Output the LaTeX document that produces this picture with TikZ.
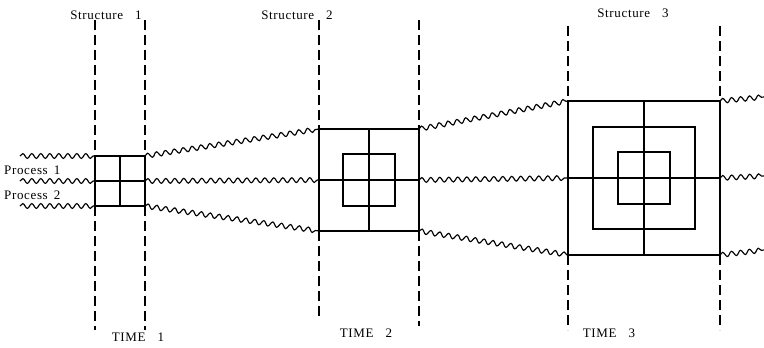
\documentclass[tikz,border=0pt]{standalone}
\usepackage{fontspec}
\setmainfont{Liberation Serif}
\usetikzlibrary{decorations.pathmorphing}
\begin{document}
\begin{tikzpicture}[x=1pt,y=-1pt,
  wave/.style={decorate,decoration={snake,segment length=9pt,amplitude=2.4pt},line width=1.15pt},
  guide/.style={dash pattern=on 10pt off 5pt, line width=1.15pt},
  frame/.style={draw, line width=1.3pt, inner sep=0pt, outer sep=0pt},
  cross/.style={line width=1.3pt},
  lbl/.style={font=\fontsize{13}{15}\selectfont\addfontfeature{LetterSpace=5}, inner sep=0pt}]
\useasboundingbox (0,0) rectangle (764,348);
% structures
\node[frame, minimum width=50pt, minimum height=50pt] (s1) at (120,181) {};
\node[frame, minimum width=100pt, minimum height=102pt] (s2) at (369,180) {};
\node[frame, minimum width=52pt, minimum height=52pt] (s2i) at (369,180) {};
\node[frame, minimum width=152pt, minimum height=154pt] (s3) at (644,178) {};
\node[frame, minimum width=102pt, minimum height=102pt] (s3m) at (644,178) {};
\node[frame, minimum width=52pt, minimum height=52pt] (s3i) at (644,178) {};
\foreach \s in {s1,s2,s3}{
  \draw[cross] (\s.west) -- (\s.east);
  \draw[cross] (\s.north) -- (\s.south);
}
% dashed time lines
\coordinate (t1a) at (95,20);  \coordinate (b1a) at (95,330);
\coordinate (t1b) at (145,20); \coordinate (b1b) at (145,330);
\coordinate (t2a) at (319,20); \coordinate (b2a) at (319,316);
\coordinate (t2b) at (419,20); \coordinate (b2b) at (419,326);
\coordinate (t3a) at (568,26); \coordinate (b3a) at (568,330);
\coordinate (t3b) at (720,26); \coordinate (b3b) at (720,330);
\draw[guide] (t1a) -- (s1.north west) (s1.south west) -- (b1a);
\draw[guide] (t1b) -- (s1.north east) (s1.south east) -- (b1b);
\draw[guide] (t2a) -- (s2.north west) (s2.south west) -- (b2a);
\draw[guide] (t2b) -- (s2.north east) (s2.south east) -- (b2b);
\draw[guide] (t3a) -- (s3.north west) (s3.south west) -- (b3a);
\draw[guide] (t3b) -- (s3.north east) (s3.south east) -- (b3b);
% wavy process lines
\coordinate (l1) at (20,156); \coordinate (l2) at (20,181); \coordinate (l3) at (20,206);
\coordinate (r1) at (764,97); \coordinate (r2) at (764,176); \coordinate (r3) at (764,250);
\draw[wave] (l1) -- (s1.north west);
\draw[wave] (l2) -- (s1.west);
\draw[wave] (l3) -- (s1.south west);
\draw[wave] (s1.north east) -- (s2.north west);
\draw[wave] (s1.east) -- (s2.west);
\draw[wave] (s1.south east) -- (s2.south west);
\draw[wave] (s2.north east) -- (s3.north west);
\draw[wave] (s2.east) -- (s3.west);
\draw[wave] (s2.south east) -- (s3.south west);
\draw[wave] (s3.north east) -- (r1);
\draw[wave] (s3.east) -- (r2);
\draw[wave] (s3.south east) -- (r3);
% labels
\node[lbl] (st1) at (106,15) {Structure\hspace{12pt}1};
\node[lbl] (st2) at (297,15) {Structure\hspace{12pt}2};
\node[lbl] (st3) at (633,13) {Structure\hspace{12pt}3};
\node[lbl, anchor=west] (p1) at (4,170) {Process\hspace{6pt}1};
\node[lbl, anchor=west] (p2) at (4,195) {Process\hspace{6pt}2};
\node[lbl] (tm1) at (138,337) {TIME\hspace{12pt}1};
\node[lbl] (tm2) at (366,333) {TIME\hspace{12pt}2};
\node[lbl] (tm3) at (609,333) {TIME\hspace{12pt}3};
\end{tikzpicture}
\end{document}
